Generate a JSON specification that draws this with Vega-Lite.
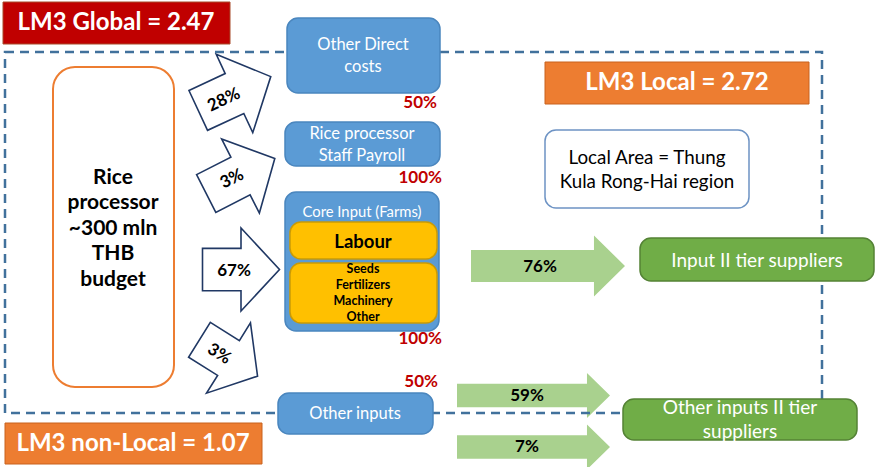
{
  "$schema": "https://vega.github.io/schema/vega-lite/v6.json",
  "width": 875,
  "height": 467,
  "padding": 0,
  "autosize": {"type": "none"},
  "background": "#ffffff",
  "config": {"view": {"stroke": null}, "text": {"font": "Lato"}},
  "datasets": {
    "greenArrows": [
      {"label": "76%", "shape": "greenBig", "x": 548, "y": 266, "len": 154, "angle": 0},
      {"label": "59%", "shape": "greenSmall", "x": 533.5, "y": 395.5, "len": 153, "angle": 0},
      {"label": "7%", "shape": "greenSmall", "x": 533.5, "y": 447, "len": 153, "angle": 0}
    ],
    "blueArrows": [
      {"label": "28%", "shape": "blue", "x": 234.5, "y": 93.5, "len": 80, "angle": -25},
      {"label": "3%", "shape": "blue", "x": 240.5, "y": 176, "len": 77, "angle": -27},
      {"label": "67%", "shape": "blue", "x": 241, "y": 269.5, "len": 77, "angle": 0},
      {"label": "3%", "shape": "blueShort", "x": 228.5, "y": 358, "len": 68.5, "angle": 32}
    ],
    "localArea": [
      {"name": "Local area boundary", "x": 5, "x2": 822, "y": 52, "y2": 413}
    ],
    "boxes": [
      {"name": "Other Direct costs", "kind": "blue", "x": 287, "x2": 440, "y": 18, "y2": 93},
      {"name": "Rice processor Staff Payroll", "kind": "blue", "x": 285, "x2": 440, "y": 122, "y2": 166},
      {"name": "Core Input (Farms)", "kind": "blue", "x": 285, "x2": 439, "y": 192, "y2": 331},
      {"name": "Labour", "kind": "yellow", "x": 290, "x2": 437, "y": 222, "y2": 259},
      {"name": "Seeds etc", "kind": "yellow", "x": 290, "x2": 437, "y": 263, "y2": 323},
      {"name": "Other inputs", "kind": "blue", "x": 278, "x2": 433, "y": 393, "y2": 434},
      {"name": "Input II tier suppliers", "kind": "green", "x": 640, "x2": 874, "y": 238, "y2": 281},
      {"name": "Other inputs II tier suppliers", "kind": "green", "x": 623, "x2": 857, "y": 399, "y2": 440},
      {"name": "Local Area note", "kind": "note", "x": 545, "x2": 749, "y": 130, "y2": 208}
    ],
    "rice": [
      {"name": "Rice processor", "kind": "rice", "x": 53, "x2": 174, "y": 67, "y2": 387}
    ],
    "banners": [
      {"name": "LM3 Global", "kind": "red", "x": 3, "x2": 230, "y": 2, "y2": 44},
      {"name": "LM3 Local", "kind": "orange", "x": 545, "x2": 809, "y": 62, "y2": 104},
      {"name": "LM3 non-Local", "kind": "orange", "x": 5, "x2": 262, "y": 423, "y2": 464}
    ],
    "texts": [
      {"style": "banner", "text": "LM3 Global = 2.47", "x": 116, "y": 23, "angle": 0},
      {"style": "banner", "text": "LM3 Local = 2.72", "x": 677, "y": 83, "angle": 0},
      {"style": "banner", "text": "LM3 non-Local = 1.07", "x": 133, "y": 444, "angle": 0},
      {"style": "boxWhite", "text": ["Other Direct", "costs"], "x": 363, "y": 45, "angle": 0},
      {"style": "boxWhite", "text": ["Rice processor", "Staff Payroll"], "x": 362, "y": 134, "angle": 0},
      {"style": "boxWhite", "text": "Other inputs", "x": 355, "y": 414, "angle": 0},
      {"style": "boxGreen", "text": "Input II tier suppliers", "x": 757, "y": 261, "angle": 0},
      {"style": "boxGreen", "text": ["Other inputs II tier", "suppliers"], "x": 740, "y": 408, "angle": 0},
      {"style": "coreTitle", "text": "Core Input (Farms)", "x": 362, "y": 213, "angle": 0},
      {"style": "labour", "text": "Labour", "x": 363, "y": 242, "angle": 0},
      {"style": "farmList", "text": ["Seeds", "Fertilizers", "Machinery", "Other"], "x": 363, "y": 269, "angle": 0},
      {"style": "rice", "text": ["Rice", "processor", "~300 mln", "THB", "budget"], "x": 113, "y": 178, "angle": 0},
      {"style": "note", "text": ["Local Area = Thung", "Kula Rong-Hai region"], "x": 647, "y": 158, "angle": 0},
      {"style": "pct", "text": "50%", "x": 437, "y": 103, "angle": 0},
      {"style": "pct", "text": "100%", "x": 442, "y": 178, "angle": 0},
      {"style": "pct", "text": "100%", "x": 442, "y": 339, "angle": 0},
      {"style": "pct", "text": "50%", "x": 438, "y": 382, "angle": 0},
      {"style": "flow", "text": "28%", "x": 224, "y": 100, "angle": -25},
      {"style": "flow", "text": "3%", "x": 232, "y": 179, "angle": -27},
      {"style": "flow", "text": "67%", "x": 234, "y": 271, "angle": 0},
      {"style": "flow", "text": "3%", "x": 219, "y": 354, "angle": 32},
      {"style": "flow", "text": "76%", "x": 540, "y": 267, "angle": 0},
      {"style": "flow", "text": "59%", "x": 527, "y": 396, "angle": 0},
      {"style": "flow", "text": "7%", "x": 527, "y": 447, "angle": 0}
    ]
  },
  "encoding": {
    "x": {"field": "x", "type": "quantitative", "scale": {"domain": [0, 875], "nice": false, "zero": false}, "axis": null},
    "y": {"field": "y", "type": "quantitative", "scale": {"domain": [0, 467], "nice": false, "zero": false, "reverse": true}, "axis": null}
  },
  "layer": [
    {
      "data": {"name": "greenArrows"},
      "mark": {"type": "point", "filled": true, "fill": "#A9D18E", "stroke": null, "opacity": 1, "fillOpacity": 1},
      "encoding": {
        "shape": {"field": "shape", "type": "nominal", "legend": null, "scale": {"domain": ["greenBig", "greenSmall", "blue", "blueShort"], "range": ["M-1,-0.208L0.597,-0.208L0.597,-0.396L1,0L0.597,0.396L0.597,0.208L-1,0.208Z", "M-1,-0.155L0.699,-0.155L0.699,-0.294L1,0L0.699,0.294L0.699,0.155L-1,0.155Z", "M-1,-0.55L0,-0.55L0,-1.08L1,0L0,1.08L0,0.55L-1,0.55Z", "M-1,-0.6L0,-0.6L0,-1.21L1,0L0,1.21L0,0.6L-1,0.6Z"]}},
        "size": {"field": "len", "type": "quantitative", "legend": null, "scale": {"type": "pow", "exponent": 2, "domain": [0, 875], "range": [0, 765625]}},
        "angle": {"field": "angle", "type": "quantitative", "scale": null}
      }
    },
    {
      "data": {"name": "localArea"},
      "mark": {"type": "rect", "fill": "transparent", "stroke": "#41719C", "strokeWidth": 2.5, "strokeDash": [9, 6]},
      "encoding": {
        "x2": {"field": "x2"},
        "y2": {"field": "y2"}
      }
    },
    {
      "data": {"name": "boxes"},
      "mark": {"type": "rect", "cornerRadius": 11, "strokeWidth": 1.5, "opacity": 1},
      "encoding": {
        "x2": {"field": "x2"},
        "y2": {"field": "y2"},
        "fill": {"field": "kind", "type": "nominal", "legend": null, "scale": {"domain": ["blue", "yellow", "green", "note", "red", "orange", "rice"], "range": ["#5B9BD5", "#FFC000", "#70AD47", "#FFFFFF", "#C00000", "#ED7D31", "#FFFFFF"]}},
        "stroke": {"field": "kind", "type": "nominal", "legend": null, "scale": {"domain": ["blue", "yellow", "green", "note", "red", "orange", "rice"], "range": ["#4A86BE", "#C99A06", "#548235", "#6D93C4", "#A84A2A", "#C8621F", "#ED7D31"]}}
      }
    },
    {
      "data": {"name": "rice"},
      "mark": {"type": "rect", "cornerRadius": 22, "strokeWidth": 2, "opacity": 1},
      "encoding": {
        "x2": {"field": "x2"},
        "y2": {"field": "y2"},
        "fill": {"field": "kind", "type": "nominal", "legend": null, "scale": {"domain": ["blue", "yellow", "green", "note", "red", "orange", "rice"], "range": ["#5B9BD5", "#FFC000", "#70AD47", "#FFFFFF", "#C00000", "#ED7D31", "#FFFFFF"]}},
        "stroke": {"field": "kind", "type": "nominal", "legend": null, "scale": {"domain": ["blue", "yellow", "green", "note", "red", "orange", "rice"], "range": ["#4A86BE", "#C99A06", "#548235", "#6D93C4", "#A84A2A", "#C8621F", "#ED7D31"]}}
      }
    },
    {
      "data": {"name": "banners"},
      "mark": {"type": "rect", "strokeWidth": 1, "opacity": 1},
      "encoding": {
        "x2": {"field": "x2"},
        "y2": {"field": "y2"},
        "fill": {"field": "kind", "type": "nominal", "legend": null, "scale": {"domain": ["blue", "yellow", "green", "note", "red", "orange", "rice"], "range": ["#5B9BD5", "#FFC000", "#70AD47", "#FFFFFF", "#C00000", "#ED7D31", "#FFFFFF"]}},
        "stroke": {"field": "kind", "type": "nominal", "legend": null, "scale": {"domain": ["blue", "yellow", "green", "note", "red", "orange", "rice"], "range": ["#4A86BE", "#C99A06", "#548235", "#6D93C4", "#A84A2A", "#C8621F", "#ED7D31"]}}
      }
    },
    {
      "data": {"name": "blueArrows"},
      "mark": {"type": "point", "filled": true, "fill": "#FFFFFF", "stroke": "#203864", "strokeWidth": 1.6, "opacity": 1, "fillOpacity": 1, "strokeOpacity": 1},
      "encoding": {
        "shape": {"field": "shape", "type": "nominal", "legend": null, "scale": {"domain": ["greenBig", "greenSmall", "blue", "blueShort"], "range": ["M-1,-0.208L0.597,-0.208L0.597,-0.396L1,0L0.597,0.396L0.597,0.208L-1,0.208Z", "M-1,-0.155L0.699,-0.155L0.699,-0.294L1,0L0.699,0.294L0.699,0.155L-1,0.155Z", "M-1,-0.55L0,-0.55L0,-1.08L1,0L0,1.08L0,0.55L-1,0.55Z", "M-1,-0.6L0,-0.6L0,-1.21L1,0L0,1.21L0,0.6L-1,0.6Z"]}},
        "size": {"field": "len", "type": "quantitative", "legend": null, "scale": {"type": "pow", "exponent": 2, "domain": [0, 875], "range": [0, 765625]}},
        "angle": {"field": "angle", "type": "quantitative", "scale": null}
      }
    },
    {
      "data": {"name": "texts"},
      "transform": [{"filter": "datum.style === 'banner'"}],
      "mark": {"type": "text", "font": "Lato", "fontWeight": "bold", "fontSize": 24, "color": "#FFFFFF", "align": "center", "baseline": "middle"},
      "encoding": {"text": {"field": "text", "type": "nominal"}}
    },
    {
      "data": {"name": "texts"},
      "transform": [{"filter": "datum.style === 'boxWhite'"}],
      "mark": {"type": "text", "font": "Lato", "fontSize": 16.5, "lineHeight": 21.5, "color": "#FFFFFF", "align": "center", "baseline": "middle"},
      "encoding": {"text": {"field": "text", "type": "nominal"}}
    },
    {
      "data": {"name": "texts"},
      "transform": [{"filter": "datum.style === 'boxGreen'"}],
      "mark": {"type": "text", "font": "Lato", "fontSize": 19, "lineHeight": 24, "color": "#FFFFFF", "align": "center", "baseline": "middle"},
      "encoding": {"text": {"field": "text", "type": "nominal"}}
    },
    {
      "data": {"name": "texts"},
      "transform": [{"filter": "datum.style === 'coreTitle'"}],
      "mark": {"type": "text", "font": "Lato", "fontSize": 14.8, "color": "#FFFFFF", "align": "center", "baseline": "middle"},
      "encoding": {"text": {"field": "text", "type": "nominal"}}
    },
    {
      "data": {"name": "texts"},
      "transform": [{"filter": "datum.style === 'labour'"}],
      "mark": {"type": "text", "font": "Lato", "fontWeight": "bold", "fontSize": 18.5, "color": "#000000", "align": "center", "baseline": "middle"},
      "encoding": {"text": {"field": "text", "type": "nominal"}}
    },
    {
      "data": {"name": "texts"},
      "transform": [{"filter": "datum.style === 'farmList'"}],
      "mark": {"type": "text", "font": "Lato", "fontWeight": "bold", "fontSize": 12.5, "lineHeight": 16, "color": "#000000", "align": "center", "baseline": "middle"},
      "encoding": {"text": {"field": "text", "type": "nominal"}}
    },
    {
      "data": {"name": "texts"},
      "transform": [{"filter": "datum.style === 'rice'"}],
      "mark": {"type": "text", "font": "Lato", "fontWeight": "bold", "fontSize": 21, "lineHeight": 25.4, "color": "#000000", "align": "center", "baseline": "middle"},
      "encoding": {"text": {"field": "text", "type": "nominal"}}
    },
    {
      "data": {"name": "texts"},
      "transform": [{"filter": "datum.style === 'note'"}],
      "mark": {"type": "text", "font": "Lato", "fontSize": 18.8, "lineHeight": 24, "color": "#000000", "align": "center", "baseline": "middle"},
      "encoding": {"text": {"field": "text", "type": "nominal"}}
    },
    {
      "data": {"name": "texts"},
      "transform": [{"filter": "datum.style === 'pct'"}],
      "mark": {"type": "text", "font": "Lato", "fontWeight": "bold", "fontSize": 17, "color": "#C00000", "align": "right", "baseline": "middle"},
      "encoding": {"text": {"field": "text", "type": "nominal"}}
    },
    {
      "data": {"name": "texts"},
      "transform": [{"filter": "datum.style === 'flow'"}],
      "mark": {"type": "text", "font": "Lato", "fontWeight": "bold", "fontSize": 17, "color": "#000000", "align": "center", "baseline": "middle"},
      "encoding": {
        "text": {"field": "text", "type": "nominal"},
        "angle": {"field": "angle", "type": "quantitative", "scale": null}
      }
    }
  ]
}
